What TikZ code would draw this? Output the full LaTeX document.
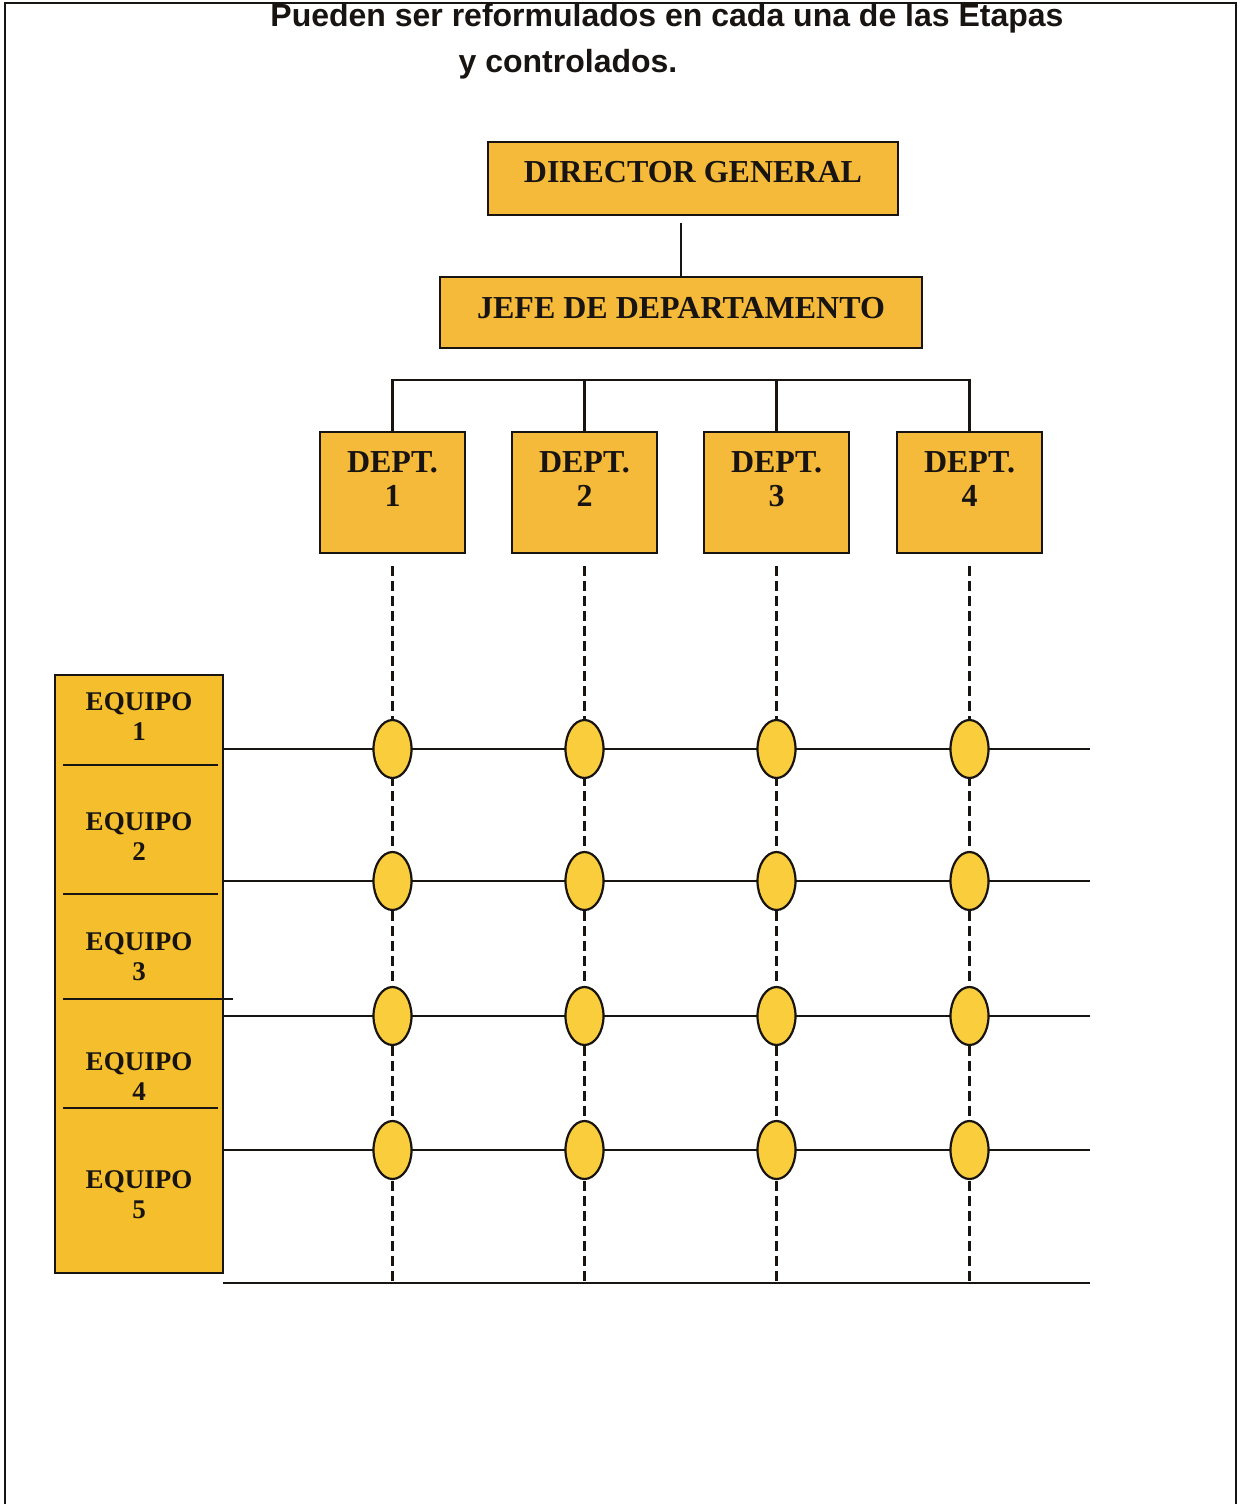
\documentclass[tikz,border=0pt]{standalone}
\usepackage{fontspec}
\setmainfont{Liberation Serif}
\newfontfamily\titlefont{Liberation Sans}
\usetikzlibrary{calc,shapes.geometric}
\definecolor{boxfill}{RGB}{246,186,58}
\definecolor{teamfill}{RGB}{245,190,44}
\definecolor{dotfill}{RGB}{249,205,60}
\definecolor{ink}{RGB}{24,20,18}
\tikzset{
  orgbox/.style={draw=ink, line width=2.2pt, fill=boxfill, inner sep=0pt,
    font=\bfseries\fontsize{32}{34}\selectfont, text=ink, text height=21pt},
  deptbox/.style={orgbox, minimum width=145pt, minimum height=121pt},
  depttext/.style={align=center, inner sep=0pt, font=\bfseries\fontsize{32}{34}\selectfont, text=ink},
  teamtext/.style={align=center, inner sep=0pt, font=\bfseries\fontsize{27}{30}\selectfont, text=ink},
  link/.style={draw=ink, line width=2.2pt},
  grid/.style={draw=ink, line width=2.2pt},
  vgrid/.style={draw=ink, line width=2.2pt, dash pattern=on 10pt off 5pt},
  sep/.style={draw=ink, line width=2.4pt},
  node dot/.style={ellipse, draw=ink, line width=2.2pt, fill=dotfill,
    minimum width=38pt, minimum height=58pt, inner sep=0pt},
}
\begin{document}
\begin{tikzpicture}[x=1pt, y=-1pt]
  \useasboundingbox[fill=white] (0,0) rectangle (1245,1504);

  % page frame (open at the bottom)
  \draw[draw=ink, line width=2.5pt] (5,1504) -- (5,3) -- (1236,3) -- (1236,1504);

  % heading
  \node[anchor=base, inner sep=0pt, font=\titlefont\bfseries\fontsize{32}{34}\selectfont, text=ink]
    (t1) at (667,27) {Pueden ser reformulados en cada una de las Etapas};
  \node[anchor=base, inner sep=0pt, font=\titlefont\bfseries\fontsize{32}{34}\selectfont, text=ink]
    (t2) at (568,72) {y controlados.};

  % hierarchy
  \node[orgbox, text depth=14pt, minimum width=410pt, minimum height=73pt] (dg) at (693,178.5) {DIRECTOR GENERAL};
  \node[orgbox, text depth=10pt, minimum width=482pt, minimum height=71pt] (jd) at (681,312.5) {JEFE DE DEPARTAMENTO};
  \draw[link, shorten >=7pt] (jd.north) -- (jd.north |- dg.south);

  \coordinate (bus) at (0,380);
  \foreach \i/\x in {1/392.5, 2/584.5, 3/776.5, 4/969.5} {
    \node[deptbox] (d\i) at (\x,492.5) {};
    \node[depttext] (dt\i) at ($(d\i.north)+(0,48)$) {DEPT.\\\i};
  }
  \draw[link] (d1.north) -- (d1.north |- bus) -- (d4.north |- bus) -- (d4.north);
  \draw[link] (d2.north) -- (d2.north |- bus);
  \draw[link] (d3.north) -- (d3.north |- bus);

  % team column
  \node[draw=ink, line width=2.2pt, fill=teamfill, minimum width=168pt, minimum height=598pt,
        inner sep=0pt] (eq) at (139,974) {};
  \foreach \k/\y in {1/717, 2/837, 3/957, 4/1077, 5/1195} {
    \node[teamtext] (et\k) at (139,\y) {EQUIPO\\\k};
  }
  \coordinate (s1a) at (63,765);  \coordinate (s1b) at (218,765);
  \coordinate (s2a) at (63,894);  \coordinate (s2b) at (218,894);
  \coordinate (s3a) at (63,999);  \coordinate (s3b) at (233,999);
  \coordinate (s4a) at (63,1108); \coordinate (s4b) at (218,1108);
  \foreach \s in {1,2,3,4} { \draw[sep] (s\s a) -- (s\s b); }

  % matrix grid
  \coordinate (r1) at (1090,749);
  \coordinate (r2) at (1090,881);
  \coordinate (r3) at (1090,1016);
  \coordinate (r4) at (1090,1150);
  \coordinate (r5) at (1090,1283);
  \foreach \r in {1,2,3,4} { \draw[grid] (eq.east |- r\r) -- (r\r); }
  \draw[grid] (eq.east |- r5) ++(-1,0) -- (r5);
  \foreach \i in {1,2,3,4} {
    \draw[vgrid, shorten <=12pt] (d\i.south) -- (d\i.south |- r5);
  }

  % crossing points
  \foreach \i in {1,2,3,4} {
    \foreach \r in {1,2,3,4} {
      \node[node dot] (c\i\r) at (d\i.south |- r\r) {};
    }
  }
\end{tikzpicture}
\end{document}
